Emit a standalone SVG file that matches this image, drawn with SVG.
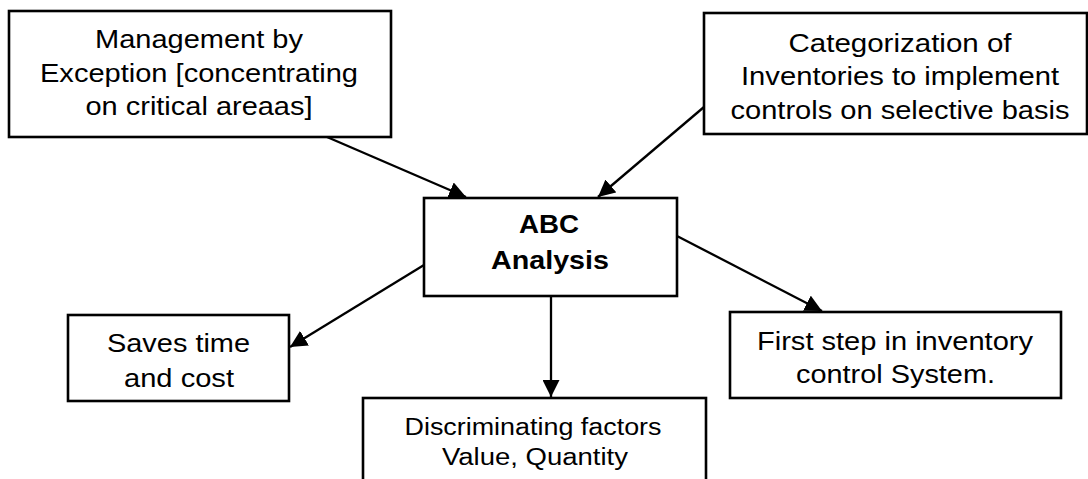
<svg xmlns="http://www.w3.org/2000/svg" width="1088" height="479" viewBox="0 0 1088 479">
  <style>
    .box { fill: #ffffff; stroke: #000000; stroke-width: 2.6; }
    .lbl { font-family: "Liberation Sans", Arial, sans-serif; font-size: 26px; fill: #000000; text-anchor: middle; }
    .sm { font-size: 23px; }
    .bold { font-weight: bold; font-size: 25px; }
    .link { stroke: #000000; stroke-width: 2.3; fill: none; marker-end: url(#head); }
  </style>
  <defs>
    <marker id="head" viewBox="0 0 17 17" refX="17" refY="8.5" markerWidth="17" markerHeight="17" markerUnits="userSpaceOnUse" orient="auto">
      <path d="M0,0 L17,8.5 L0,17 Z" fill="#000000"/>
    </marker>
  </defs>
  <rect width="1088" height="479" fill="#ffffff"/>

  <g id="connectors">
    <line class="link" x1="327" y1="137" x2="466" y2="197"/>
    <line class="link" x1="704" y1="107" x2="598" y2="197"/>
    <line class="link" x1="424" y1="265" x2="290" y2="347"/>
    <line class="link" x1="677" y1="236" x2="822" y2="311"/>
    <line class="link" x1="551" y1="296" x2="551" y2="397"/>
  </g>

  <g id="management">
    <rect class="box" x="9" y="11" width="382" height="126"/>
    <text class="lbl" x="199" y="48" textLength="208" lengthAdjust="spacingAndGlyphs">Management by</text>
    <text class="lbl" x="199" y="82" textLength="318" lengthAdjust="spacingAndGlyphs">Exception [concentrating</text>
    <text class="lbl" x="199" y="115" textLength="227" lengthAdjust="spacingAndGlyphs">on critical areaas]</text>
  </g>

  <g id="categorization">
    <rect class="box" x="704" y="13" width="383" height="121"/>
    <text class="lbl" x="900" y="52" textLength="223" lengthAdjust="spacingAndGlyphs">Categorization of</text>
    <text class="lbl" x="900" y="85" textLength="318" lengthAdjust="spacingAndGlyphs">Inventories to implement</text>
    <text class="lbl" x="900" y="119" textLength="339" lengthAdjust="spacingAndGlyphs">controls on selective basis</text>
  </g>

  <g id="abc">
    <rect class="box" x="424" y="198" width="253" height="98"/>
    <text class="lbl bold" x="549" y="233" textLength="60" lengthAdjust="spacingAndGlyphs">ABC</text>
    <text class="lbl bold" x="550" y="269" textLength="118" lengthAdjust="spacingAndGlyphs">Analysis</text>
  </g>

  <g id="saves">
    <rect class="box" x="68" y="315" width="221" height="86"/>
    <text class="lbl" x="178.5" y="352" textLength="143" lengthAdjust="spacingAndGlyphs">Saves time</text>
    <text class="lbl" x="179" y="387" textLength="110" lengthAdjust="spacingAndGlyphs">and cost</text>
  </g>

  <g id="discriminating">
    <rect class="box" x="363" y="398" width="343" height="90"/>
    <text class="lbl sm" x="533" y="435" textLength="257" lengthAdjust="spacingAndGlyphs">Discriminating factors</text>
    <text class="lbl sm" x="535" y="465" textLength="186" lengthAdjust="spacingAndGlyphs">Value, Quantity</text>
  </g>

  <g id="firststep">
    <rect class="box" x="730" y="312" width="331" height="86"/>
    <text class="lbl" x="895" y="350" textLength="276" lengthAdjust="spacingAndGlyphs">First step in inventory</text>
    <text class="lbl" x="895.5" y="383" textLength="199" lengthAdjust="spacingAndGlyphs">control System.</text>
  </g>
</svg>
